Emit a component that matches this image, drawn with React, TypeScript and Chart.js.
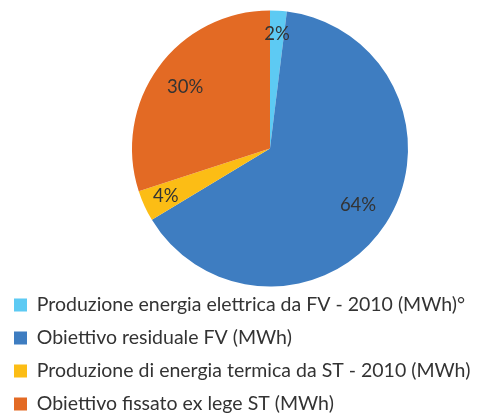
import { useEffect, useRef } from "react";
import { Chart, registerables } from "chart.js";

Chart.register(...registerables);

const categories = [
  "Produzione energia elettrica da FV - 2010 (MWh)°",
  "Obiettivo residuale FV (MWh)",
  "Produzione di energia termica da ST - 2010 (MWh)",
  "Obiettivo fissato ex lege ST (MWh)",
];
const values = [1.95, 64.4, 3.65, 30.0];
const colors = ["#5DCAF3", "#3E7DC1", "#FCBD15", "#E36A24"];

const FONT_FAMILY = "Lato";
const LEGEND_FONT_SIZE = 19.5;
const LABEL_FONT_SIZE = 18.5;

const sliceLabels = {
  id: "sliceLabels",
  afterDatasetsDraw(chart: any) {
    const meta = chart.getDatasetMeta(0);
    const total = values.reduce((a, b) => a + b, 0);
    const ctx = chart.ctx;
    ctx.save();
    ctx.font = `${LABEL_FONT_SIZE}px ${FONT_FAMILY}`;
    ctx.fillStyle = "#333333";
    ctx.textAlign = "center";
    ctx.textBaseline = "middle";
    meta.data.forEach((arc: any, i: number) => {
      const { x, y, startAngle, endAngle, outerRadius } = arc.getProps(
        ["x", "y", "startAngle", "endAngle", "outerRadius"],
        true
      );
      const pct = (values[i] / total) * 100;
      const f = pct < 10 ? 0.83 : 0.76;
      const mid = (startAngle + endAngle) / 2;
      ctx.fillText(
        Math.round(pct) + "%",
        x + Math.cos(mid) * outerRadius * f,
        y + Math.sin(mid) * outerRadius * f
      );
    });
    ctx.restore();
  },
};

export default function App() {
  const ref = useRef<HTMLCanvasElement>(null);
  useEffect(() => {
    if (!ref.current) return;
    const chart = new Chart(ref.current, {
      type: "pie",
      data: {
        labels: categories,
        datasets: [
          {
            data: values,
            backgroundColor: colors,
            borderWidth: 0,
            radius: 138,
            clip: false,
          } as any,
        ],
      },
      options: {
        responsive: false,
        animation: false,
        layout: { padding: { top: 15.25, bottom: -7.75, left: 0.5, right: 0.5 } },
        plugins: {
          tooltip: { enabled: false },
          legend: {
            position: "bottom",
            align: "start",
            labels: {
              boxWidth: 13,
              boxHeight: 13,
              padding: 13.5,
              color: "#333333",
              font: { family: FONT_FAMILY, size: LEGEND_FONT_SIZE },
            },
          },
        },
      },
      plugins: [sliceLabels],
    });
    return () => chart.destroy();
  }, []);
  return (
    <div
      style={{
        position: "fixed",
        left: 0,
        top: 0,
        width: 490,
        height: 416,
        overflow: "hidden",
        background: "#fff",
      }}
    >
      <canvas ref={ref} width={540} height={416} style={{ display: "block" }} />
    </div>
  );
}
